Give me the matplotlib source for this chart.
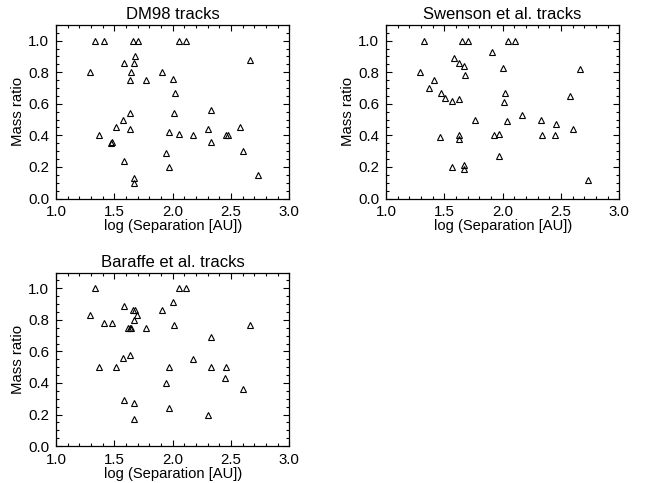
import matplotlib.pyplot as plt
from matplotlib.ticker import MultipleLocator

plt.rcParams['font.family'] = ['Liberation Sans', 'DejaVu Sans']

# DM98 tracks
dm_sep = [1.29, 1.33, 1.41, 1.37, 1.51, 1.47, 1.48, 1.57, 1.58, 1.58, 1.63, 1.63,
          1.63, 1.64, 1.66, 1.70, 1.68, 1.67, 1.67, 1.67, 1.77, 1.91, 1.94, 1.97,
          1.97, 2.00, 2.01, 2.02, 2.05, 2.05, 2.11, 2.17, 2.30, 2.33, 2.33, 2.46,
          2.47, 2.58, 2.60, 2.66, 2.73]
dm_q = [0.80, 1.00, 1.00, 0.40, 0.45, 0.35, 0.36, 0.50, 0.86, 0.24, 0.54, 0.44,
        0.75, 0.80, 1.00, 1.00, 0.90, 0.86, 0.13, 0.10, 0.75, 0.80, 0.29, 0.42,
        0.20, 0.76, 0.54, 0.67, 0.41, 1.00, 1.00, 0.40, 0.44, 0.56, 0.36, 0.40,
        0.40, 0.45, 0.30, 0.88, 0.15]

# Swenson et al. tracks
sw_sep = [1.29, 1.33, 1.37, 1.41, 1.46, 1.47, 1.51, 1.57, 1.58, 1.57, 1.63, 1.63,
          1.63, 1.63, 1.67, 1.65, 1.70, 1.68, 1.67, 1.67, 1.76, 1.91, 1.93, 1.97,
          1.97, 2.00, 2.01, 2.02, 2.04, 2.05, 2.11, 2.17, 2.33, 2.34, 2.45, 2.46,
          2.58, 2.60, 2.66, 2.73]
sw_q = [0.80, 1.00, 0.70, 0.75, 0.39, 0.67, 0.64, 0.62, 0.89, 0.20, 0.63, 0.40,
        0.38, 0.86, 0.84, 1.00, 1.00, 0.78, 0.21, 0.19, 0.50, 0.93, 0.40, 0.41,
        0.27, 0.83, 0.61, 0.67, 0.49, 1.00, 1.00, 0.53, 0.50, 0.40, 0.40, 0.47,
        0.65, 0.44, 0.82, 0.12]

# Baraffe et al. tracks
ba_sep = [1.29, 1.33, 1.37, 1.41, 1.48, 1.51, 1.57, 1.58, 1.58, 1.63, 1.62, 1.63,
          1.64, 1.66, 1.68, 1.67, 1.69, 1.67, 1.67, 1.77, 1.91, 1.94, 1.97, 1.97,
          2.00, 2.01, 2.05, 2.11, 2.17, 2.30, 2.33, 2.33, 2.45, 2.46, 2.60, 2.66]
ba_q = [0.83, 1.00, 0.50, 0.78, 0.78, 0.50, 0.56, 0.89, 0.29, 0.58, 0.75, 0.75,
        0.75, 0.86, 0.86, 0.80, 0.83, 0.27, 0.17, 0.75, 0.86, 0.40, 0.50, 0.24,
        0.91, 0.77, 1.00, 1.00, 0.55, 0.20, 0.69, 0.50, 0.43, 0.50, 0.36, 0.77]

panels = [
    ("DM98 tracks", dm_sep, dm_q, [0.0862, 0.589, 0.359, 0.3594]),
    ("Swenson et al. tracks", sw_sep, sw_q, [0.5938, 0.589, 0.359, 0.3594]),
    ("Baraffe et al. tracks", ba_sep, ba_q, [0.0862, 0.0764, 0.359, 0.3594]),
]

fig = plt.figure(figsize=(6.5, 4.83), dpi=100)

for title, sep, q, pos in panels:
    ax = fig.add_axes(pos)
    ax.plot(sep, q, linestyle='none', marker='^', markersize=4.2,
            markerfacecolor='none', markeredgecolor='black', markeredgewidth=0.8)
    ax.set_xlim(1.0, 3.0)
    ax.set_ylim(0.0, 1.1)
    ax.xaxis.set_major_locator(MultipleLocator(0.5))
    ax.xaxis.set_minor_locator(MultipleLocator(0.1))
    ax.yaxis.set_major_locator(MultipleLocator(0.2))
    ax.yaxis.set_minor_locator(MultipleLocator(0.05))
    ax.xaxis.set_major_formatter(lambda v, p: f"{v:.1f}")
    ax.yaxis.set_major_formatter(lambda v, p: f"{v:.1f}")
    ax.tick_params(which='both', direction='in', top=True, right=True,
                   width=0.8, labelsize=10.8, pad=5)
    ax.tick_params(which='major', length=4.5)
    ax.tick_params(which='minor', length=2.5)
    for s in ax.spines.values():
        s.set_linewidth(0.9)
    ax.set_title(title, fontsize=12, pad=4)
    ax.set_xlabel("log (Separation [AU])", fontsize=10.6, labelpad=0)
    ax.set_ylabel("Mass ratio", fontsize=10.8, labelpad=2)

fig.savefig("out.png", dpi=100)
